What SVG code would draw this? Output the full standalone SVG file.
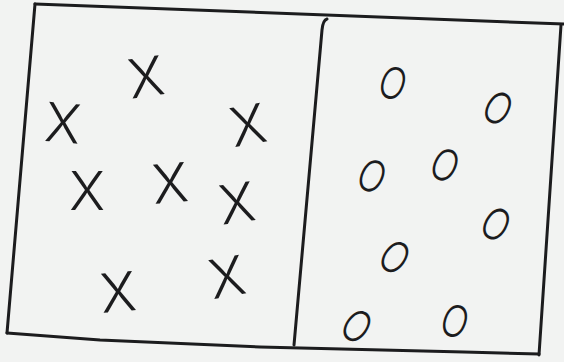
<svg xmlns="http://www.w3.org/2000/svg" width="564" height="362" viewBox="0 0 564 362">
<style>
.ln{fill:none;stroke:#1c1c1e;stroke-width:3;stroke-linecap:round;stroke-linejoin:round}
.x{font-family:Inter,"Liberation Sans",sans-serif;font-weight:300;font-size:54px;fill:#1c1c1e;text-anchor:middle;dominant-baseline:central}
.o{font-family:Inter,"Liberation Sans",sans-serif;font-weight:300;font-size:44px;fill:#1c1c1e;text-anchor:middle;dominant-baseline:central}
</style>
<rect width="564" height="362" fill="#f2f3f2"/>
<g id="frame">
<path class="ln" d="M35,4 L564,24"/>
<path class="ln" d="M35,4 L7,333"/>
<path class="ln" d="M7,333 L100,340 L260,347 L464,352 L539,354"/>
<path class="ln" d="M561,25 L539,355"/>
<path class="ln" d="M327,19 Q323,20 322,30 L294,345"/>
</g>
<g id="crosses">
<text class="x" x="146" y="77" transform="rotate(-8 146 77)">X</text>
<text class="x" x="63" y="123" transform="rotate(5 63 123)">X</text>
<text class="x" x="248" y="125" transform="rotate(-10 248 125)">X</text>
<text class="x" x="87" y="190">X</text>
<text class="x" x="170" y="183" transform="rotate(-5 170 183)">X</text>
<text class="x" x="237" y="203" transform="rotate(-8 237 203)">X</text>
<text class="x" x="118" y="292" transform="rotate(-5 118 292)">X</text>
<text class="x" x="227" y="277" transform="rotate(-10 227 277)">X</text>
</g>
<g id="circles">
<text class="o" x="393" y="83" transform="rotate(20 393 83) scale(0.8 1) translate(98.25 0)">O</text>
<text class="o" x="498" y="108" transform="rotate(30 498 108) scale(0.8 1) translate(124.5 0)">O</text>
<text class="o" x="445" y="165" transform="rotate(25 445 165) scale(0.8 1) translate(111.25 0)">O</text>
<text class="o" x="372" y="176" transform="rotate(25 372 176) scale(0.8 1) translate(93 0)">O</text>
<text class="o" x="496" y="224" transform="rotate(30 496 224) scale(0.8 1) translate(124 0)">O</text>
<text class="o" x="395" y="257" transform="rotate(35 395 257) scale(0.8 1) translate(98.75 0)">O</text>
<text class="o" x="357" y="326" transform="rotate(35 357 326) scale(0.8 1) translate(89.25 0)">O</text>
<text class="o" x="455" y="321" transform="rotate(20 455 321) scale(0.8 1) translate(113.75 0)">O</text>
</g>
</svg>
